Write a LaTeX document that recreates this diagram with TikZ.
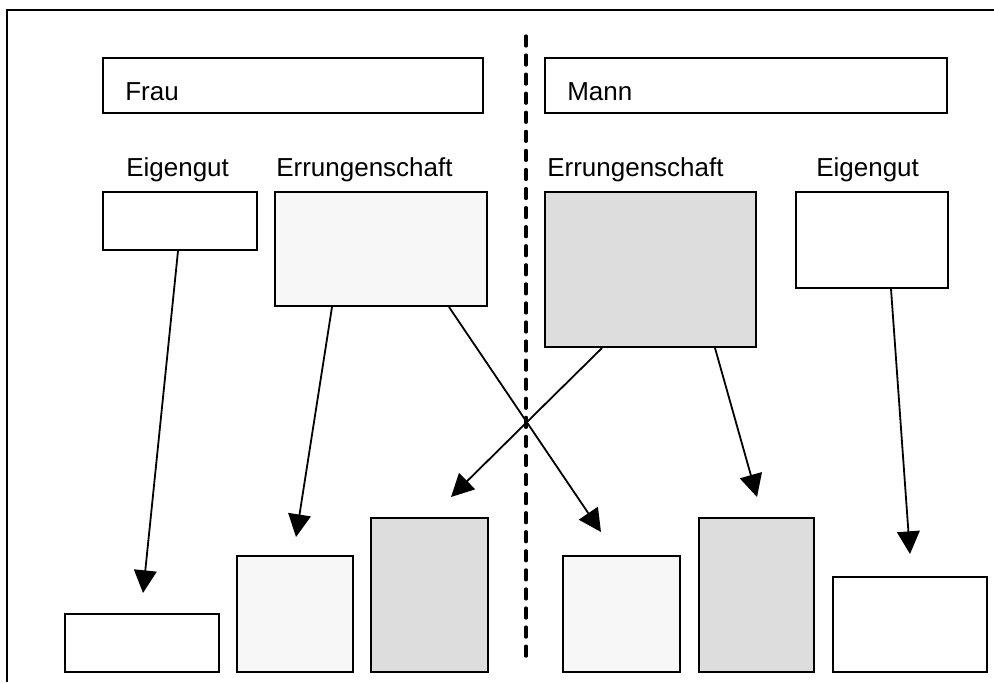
\documentclass[tikz,border=0pt]{standalone}
\usepackage{fontspec}
\setmainfont{Liberation Sans}
\usetikzlibrary{arrows.meta,calc}
\definecolor{lightfill}{HTML}{F7F7F7}
\definecolor{darkfill}{HTML}{DDDDDD}
\begin{document}
\begin{tikzpicture}[x=0.75pt,y=-0.75pt,
  box/.style={draw=black,line width=1.5pt,inner sep=0pt,fill=white},
  lbl/.style={anchor=base west,inner sep=0pt,font=\fontsize{19.5}{23}\selectfont},
  arr/.style={line width=1.35pt,-{Triangle[length=17pt,width=17pt]}}]
\useasboundingbox (0,0) rectangle (994,682);
% frame (right and bottom edges lie outside the picture)
\draw[line width=1.5pt] (7,682) -- (7,10) -- (994,10);
% divider
\draw[line width=2.4pt,line cap=round,dash pattern=on 7.5pt off 6.8pt] (526,36) -- (526,662);
% header boxes
\node[box,minimum width=285pt,minimum height=41.25pt] (frau) at (292.5,85.5) {};
\node[box,minimum width=301.5pt,minimum height=41.25pt] (mann) at (746,85.5) {};
\node[lbl] (tfrau) at (125,100) {Frau};
\node[lbl] (tmann) at (567,100) {Mann};
% labels
\node[lbl] (tel) at (126,176) {Eigengut};
\node[lbl] (trl) at (276,176) {Errungenschaft};
\node[lbl] (trr) at (547,176) {Errungenschaft};
\node[lbl] (ter) at (816,176) {Eigengut};
% upper boxes
\node[box,minimum width=115.5pt,minimum height=43.5pt] (el) at (180,221) {};
\node[box,fill=lightfill,minimum width=159pt,minimum height=85.5pt] (rl) at (381,249) {};
\node[box,fill=darkfill,minimum width=158.25pt,minimum height=116.25pt] (rr) at (650.5,269.5) {};
\node[box,minimum width=114pt,minimum height=72pt] (er) at (872,240) {};
% lower boxes
\node[box,minimum width=115.5pt,minimum height=43.5pt] (b1) at (142,643) {};
\node[box,fill=lightfill,minimum width=87pt,minimum height=87pt] (b2) at (295,614) {};
\node[box,fill=darkfill,minimum width=87.75pt,minimum height=115.5pt] (b3) at (429.5,595) {};
\node[box,fill=lightfill,minimum width=87.75pt,minimum height=87pt] (b4) at (621.5,614) {};
\node[box,fill=darkfill,minimum width=86.25pt,minimum height=115.5pt] (b5) at (756.5,595) {};
\node[box,minimum width=115.5pt,minimum height=71.25pt] (b6) at (910,624.5) {};
% arrow ends
\coordinate (e1) at (143,593);
\coordinate (e2) at (296,537);
\coordinate (e3) at (601,532);
\coordinate (e4) at (451,497);
\coordinate (e5) at (757,497);
\coordinate (e6) at (910,554);
% arrows
\draw[arr] ($(el.south west)+(76,0)$) -- (e1);
\draw[arr] ($(rl.south west)+(58,0)$) -- (e2);
\draw[arr] ($(rl.south west)+(175,0)$) -- (e3);
\draw[arr] ($(rr.south west)+(58,0)$) -- (e4);
\draw[arr] ($(rr.south west)+(171,0)$) -- (e5);
\draw[arr] ($(er.south west)+(96,0)$) -- (e6);
\end{tikzpicture}
\end{document}
